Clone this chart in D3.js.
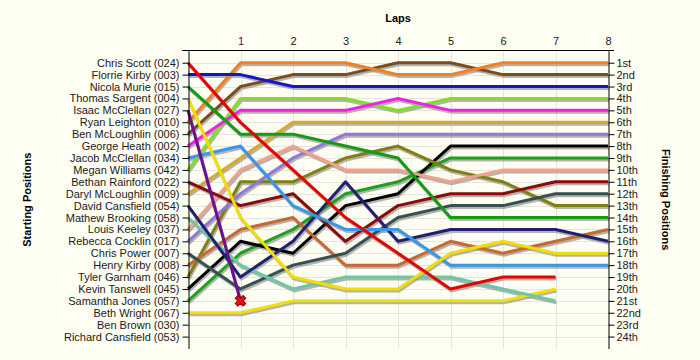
<!DOCTYPE html>
<html>
<head>
<meta charset="utf-8">
<script src="https://cdn.jsdelivr.net/npm/d3@7"></script>
<style>
  html, body { margin: 0; padding: 0; background: #FFFEF2; }
  svg { display: block; }
  text { font-family: "Liberation Sans", Arial, sans-serif; }
</style>
</head>
<body>
<svg id="chart" width="700" height="360"></svg>
<script>
// ---- data ----
const drivers = [
  "Chris Scott (024)", "Florrie Kirby (003)", "Nicola Murie (015)", "Thomas Sargent (004)",
  "Isaac McClellan (027)", "Ryan Leighton (010)", "Ben McLoughlin (006)", "George Heath (002)",
  "Jacob McClellan (034)", "Megan Williams (042)", "Bethan Rainford (022)", "Daryl McLoughlin (009)",
  "David Cansfield (054)", "Mathew Brooking (058)", "Louis Keeley (037)", "Rebecca Cocklin (017)",
  "Chris Power (007)", "Henry Kirby (008)", "Tyler Garnham (046)", "Kevin Tanswell (045)",
  "Samantha Jones (057)", "Beth Wright (067)", "Ben Brown (030)", "Richard Cansfield (053)"
];
const driverColors = [
  "#E60000", "#1414C8", "#169A16", "#F2DE00",
  "#6E0E8C", "#F28020", "#7A4A20", "#F020E8",
  "#3A96E8", "#80E21E", "#8A0A0A", "#D8A828",
  "#202070", "#6CC8A4", "#F5A088", "#9078D8",
  "#355050", "#C86A30", "#808010", "#000000",
  "#1EA01E", "#F2E000", "#999999", "#999999"
];
// position of each driver at lap 0 (start) .. last lap completed
const racePositions = [
  [1, 6, 10, 14, 17, 20, 19, 19],
  [2, 2, 3, 3, 3, 3, 3, 3, 3],
  [3, 7, 7, 8, 9, 14, 14, 14, 14],
  [4, 14, 19, 20, 20, 17, 16, 17, 17],
  [5, 21],
  [6, 1, 1, 1, 2, 2, 1, 1, 1],
  [7, 3, 2, 2, 1, 1, 2, 2, 2],
  [8, 5, 5, 5, 4, 5, 5, 5, 5],
  [9, 8, 13, 15, 15, 18, 18, 18, 18],
  [10, 4, 4, 4, 5, 4, 4, 4, 4],
  [11, 13, 12, 16, 13, 12, 12, 11, 11],
  [12, 9, 6, 6, 6, 6, 6, 6, 6],
  [13, 19, 16, 11, 16, 15, 15, 15, 16],
  [14, 18, 20, 19, 19, 19, 20, 21],
  [15, 10, 8, 10, 10, 11, 10, 10, 10],
  [16, 12, 9, 7, 7, 7, 7, 7, 7],
  [17, 20, 18, 17, 14, 13, 13, 12, 12],
  [18, 15, 14, 18, 18, 16, 17, 16, 15],
  [19, 11, 11, 9, 8, 10, 11, 13, 13],
  [20, 16, 17, 13, 12, 8, 8, 8, 8],
  [21, 17, 15, 12, 11, 9, 9, 9, 9],
  [22, 22, 21, 21, 21, 21, 21, 20],
  [],
  []
];
const retiredDrivers = ["Isaac McClellan (027)"];
const lapLabels = ["1", "2", "3", "4", "5", "6", "7", "8"];
const finishLabels = ["1st","2nd","3rd","4th","5th","6th","7th","8th","9th","10th","11th","12th",
  "13th","14th","15th","16th","17th","18th","19th","20th","21st","22nd","23rd","24th"];

// ---- layout ----
const svg = d3.select("#chart");
const pLeft = 188, pRight = 608, pTop = 50.8, pBottom = 348.5;
const x = d3.scaleLinear().domain([0, 8]).range([pLeft, pRight]);
const y = d3.scaleLinear().domain([0, 25]).range([pTop, pBottom]);
const positions = d3.range(1, drivers.length + 1);
const laps = lapLabels.map((d, i) => i + 1);
const topY = Math.round(pTop) - 0.5;

// gridlines
const grid = svg.append("g");
grid.selectAll("line.h").data(positions).join("line")
  .attr("x1", pLeft).attr("x2", pRight)
  .attr("y1", d => Math.round(y(d)) + 0.5).attr("y2", d => Math.round(y(d)) + 0.5)
  .attr("stroke", "#E4E4E0").attr("stroke-width", 1);
grid.selectAll("line.v").data(laps.slice(0, -1)).join("line")
  .attr("x1", d => Math.round(x(d)) + 0.5).attr("x2", d => Math.round(x(d)) + 0.5)
  .attr("y1", topY).attr("y2", pBottom)
  .attr("stroke", "#E4E4E0").attr("stroke-width", 1);

// lines
const line = d3.line().x((d, i) => x(i)).y(d => y(d));
const series = drivers.map((name, i) => ({ name, color: driverColors[i], pos: racePositions[i] }))
  .filter(s => s.pos.length > 1);

svg.append("g").attr("transform", "translate(1,2)")
  .selectAll("path").data(series).join("path")
  .attr("d", d => line(d.pos))
  .attr("fill", "none").attr("stroke", "#9a9a9a").attr("stroke-opacity", 0.75)
  .attr("stroke-width", 3).attr("stroke-linejoin", "round");

svg.append("g")
  .selectAll("path").data(series.slice().reverse()).join("path")
  .attr("d", d => line(d.pos))
  .attr("fill", "none").attr("stroke", d => d.color)
  .attr("stroke-width", 3).attr("stroke-linejoin", "round");

// retirement markers
const retired = series.filter(s => retiredDrivers.includes(s.name));
svg.append("g").selectAll("path").data(retired).join("path")
  .attr("transform", d => `translate(${x(d.pos.length - 1)},${y(d.pos[d.pos.length - 1])}) rotate(45)`)
  .attr("d", d3.symbol(d3.symbolCross, 70))
  .attr("fill", "#F01010").attr("stroke", "#900000").attr("stroke-width", 1);

// left axis
const leftAxis = d3.axisLeft(y).tickValues(positions)
  .tickFormat(d => drivers[d - 1]).tickSize(6).tickSizeOuter(0).tickPadding(3);
const gL = svg.append("g").attr("transform", `translate(${pLeft + 0.5},0)`).call(leftAxis);
gL.select(".domain").attr("stroke", "#000");
gL.selectAll("text").attr("font-size", 11).attr("fill", "#1a1a1a")
  .attr("font-family", "'Liberation Sans', Arial, sans-serif");

// right axis
const rightAxis = d3.axisRight(y).tickValues(positions)
  .tickFormat(d => finishLabels[d - 1]).tickSize(6).tickSizeOuter(0).tickPadding(2);
const gR = svg.append("g").attr("transform", `translate(${pRight + 0.5},0)`).call(rightAxis);
gR.selectAll("text").attr("font-size", 11).attr("fill", "#1a1a1a")
  .attr("font-family", "'Liberation Sans', Arial, sans-serif");

// top axis
const topAxis = d3.axisTop(x).tickValues(laps).tickFormat(d => lapLabels[d - 1])
  .tickSize(0).tickSizeOuter(0).tickPadding(6);
const gT = svg.append("g").attr("transform", `translate(0,${topY})`).call(topAxis);
gT.select(".domain").remove();
gT.selectAll("text").attr("font-size", 11).attr("fill", (d, i) => i === 0 ? "#5A0A64" : "#1a1a1a")
  .attr("font-family", "'Liberation Sans', Arial, sans-serif");
svg.append("line").attr("x1", pLeft - 6).attr("x2", pRight + 6)
  .attr("y1", topY).attr("y2", topY).attr("stroke", "#000");

// titles
svg.append("text").attr("x", (pLeft + pRight) / 2).attr("y", 22).attr("text-anchor", "middle")
  .attr("font-size", 11).attr("font-weight", "bold").attr("fill", "#000").text("Laps");
svg.append("text").attr("transform", `translate(31,${(pTop + pBottom) / 2}) rotate(-90)`)
  .attr("text-anchor", "middle").attr("font-size", 11).attr("font-weight", "bold")
  .attr("fill", "#000").text("Starting Positions");
svg.append("text").attr("transform", `translate(662,${(pTop + pBottom) / 2}) rotate(90)`)
  .attr("text-anchor", "middle").attr("font-size", 11).attr("font-weight", "bold")
  .attr("fill", "#000").text("Finishing Positions");
</script>
</body>
</html>
